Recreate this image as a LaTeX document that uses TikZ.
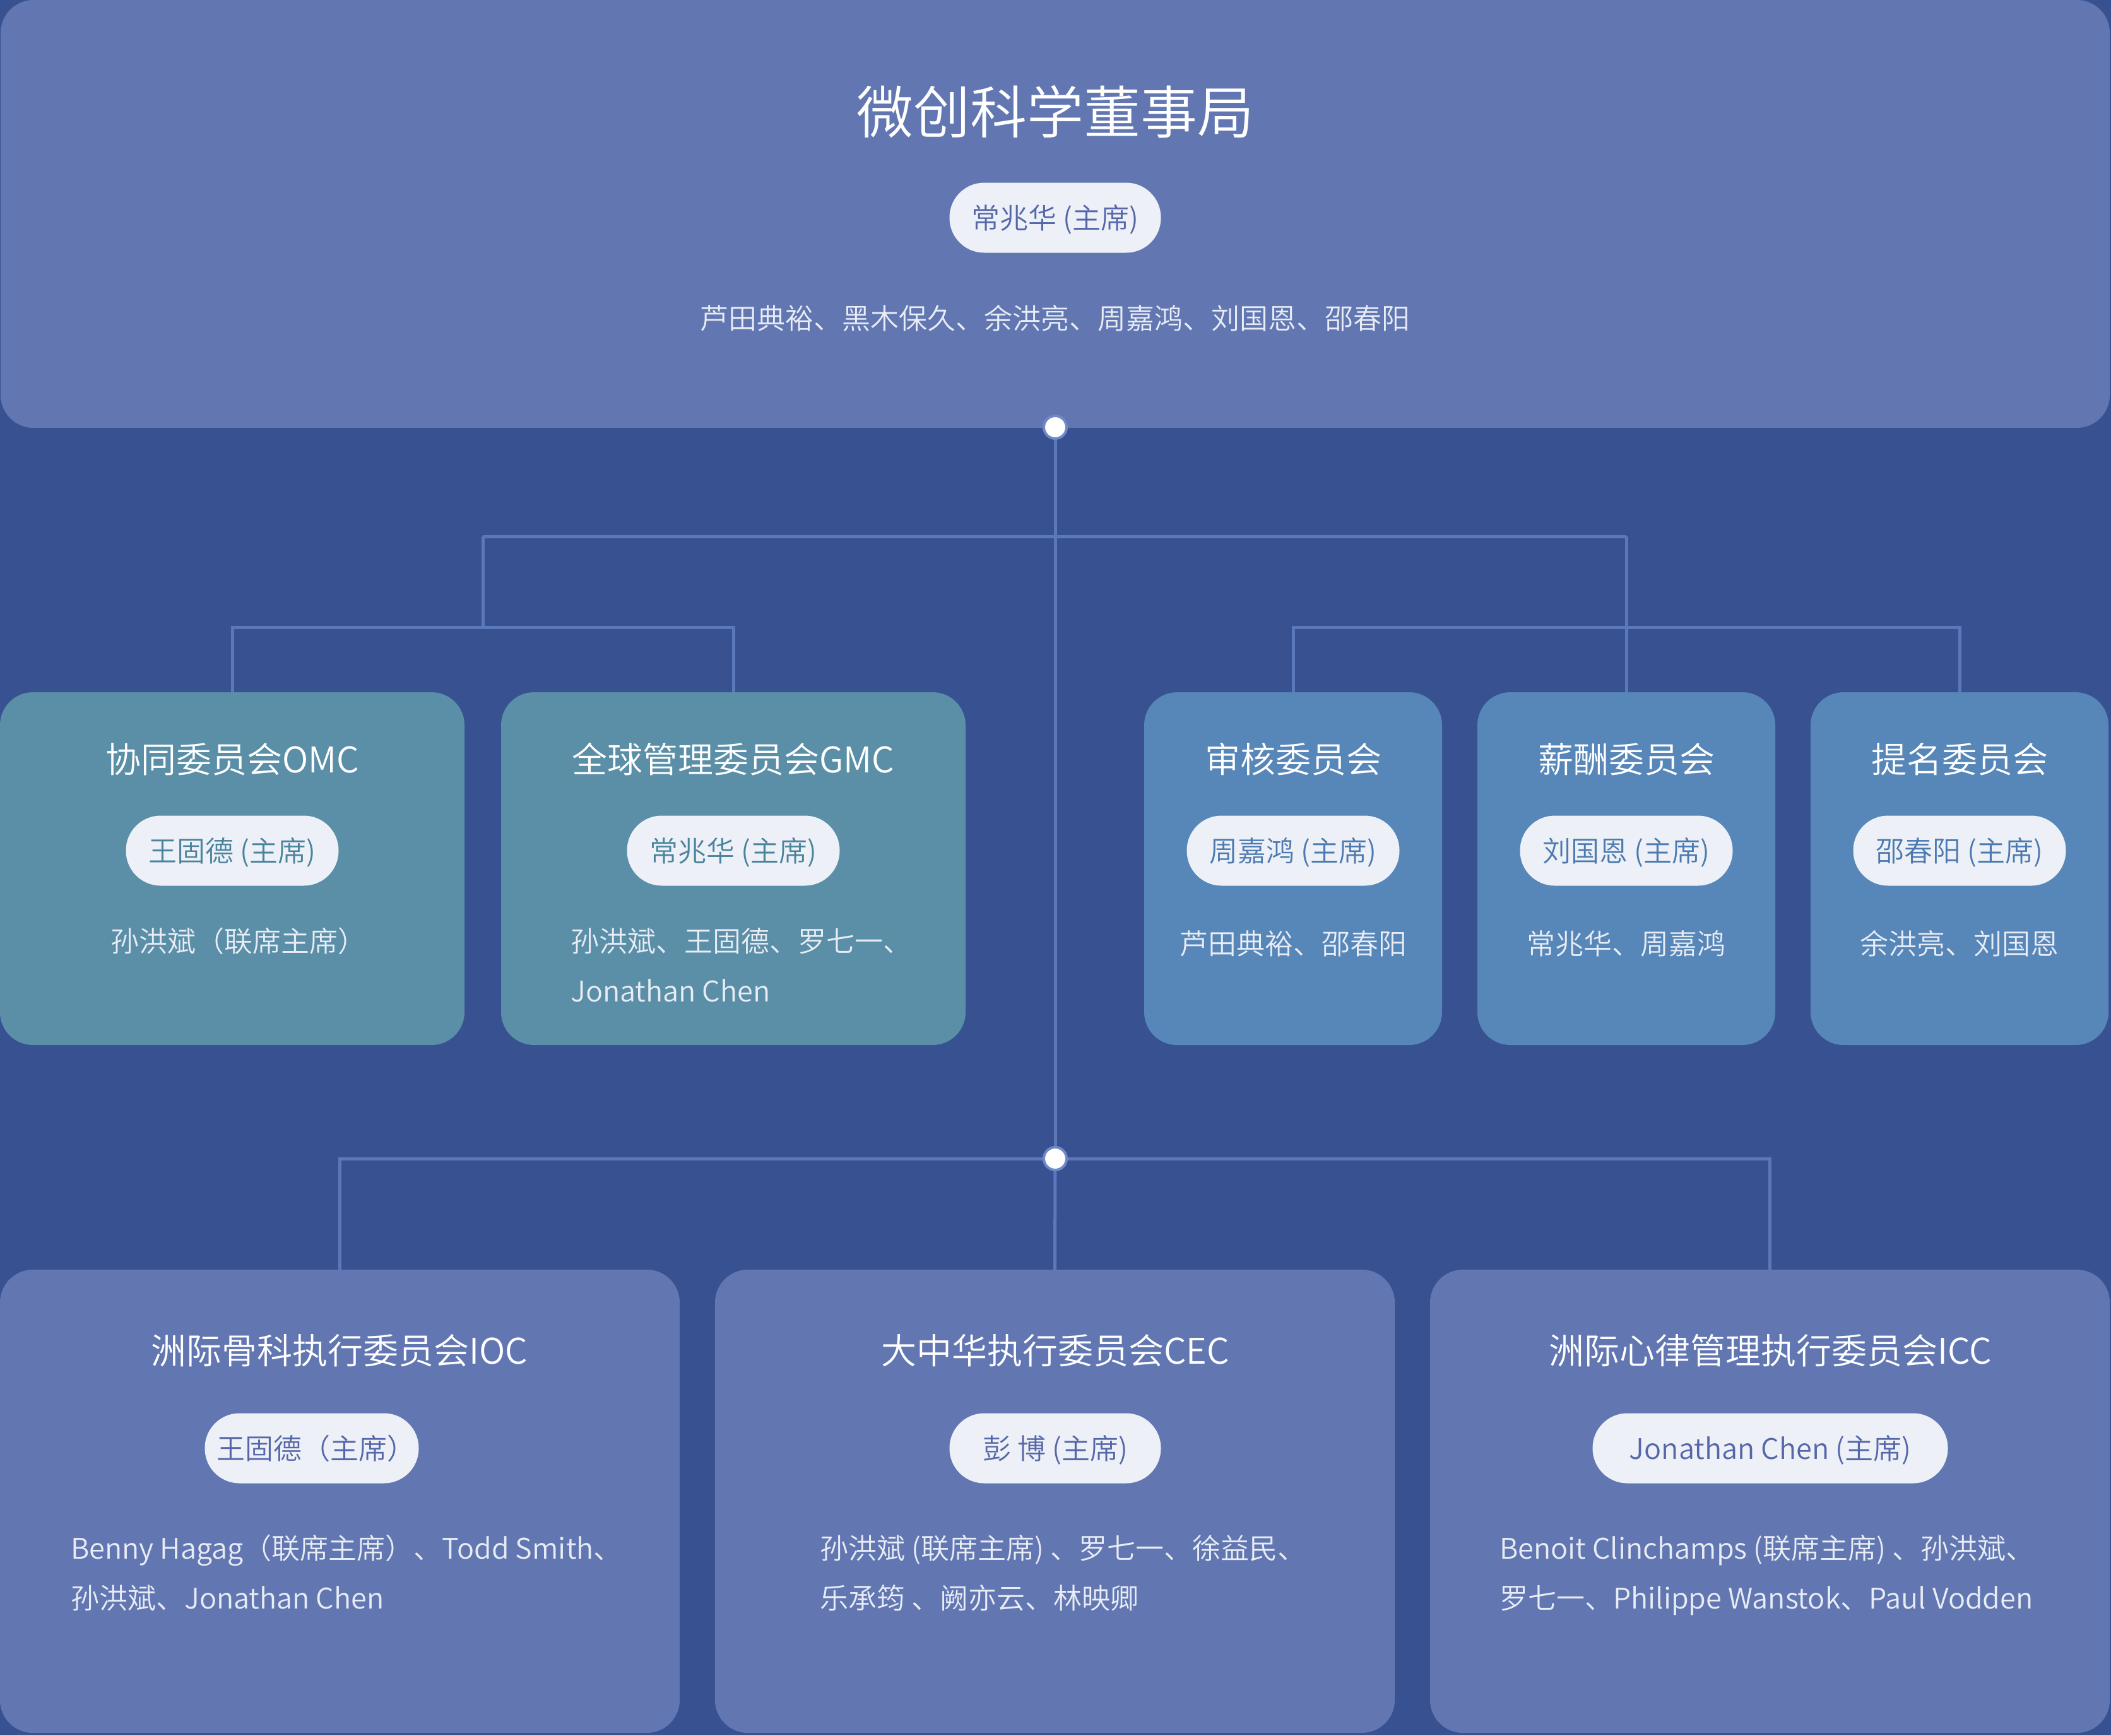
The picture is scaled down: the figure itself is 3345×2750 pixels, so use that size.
\documentclass[tikz,border=0pt]{standalone}
\usepackage{fontspec}
\setmainfont{Noto Sans CJK SC}[UprightFont={* DemiLight}]
\definecolor{bg}{HTML}{385291}
\definecolor{boxc}{HTML}{6277B2}
\definecolor{tealc}{HTML}{5A8FA7}
\definecolor{bluec}{HTML}{5786B8}
\definecolor{pillc}{HTML}{EDF0F7}
\definecolor{linec}{HTML}{5B78BA}
\definecolor{memc}{HTML}{E8ECF5}
\definecolor{ptop}{HTML}{5567A8}
\definecolor{pteal}{HTML}{4A849C}
\definecolor{pblue}{HTML}{4C7AB0}
\definecolor{ringc}{HTML}{7088C6}
\begin{document}
\begin{tikzpicture}[x=1pt,y=-1pt,
  box/.style={rectangle, rounded corners=52pt, inner sep=0pt, draw=none},
  pill/.style={rectangle, rounded corners=55pt, fill=pillc, minimum height=111pt,
    inner xsep=0pt, inner ysep=0pt, text height=36pt, text depth=1.8pt,
    font=\fontsize{45pt}{54pt}\selectfont},
  bigttl/.style={anchor=base, inner sep=0pt, text=white, font=\fontsize{90pt}{108pt}\selectfont},
  ttl/.style={anchor=base, inner sep=0pt, text=white, font=\fontsize{56pt}{67pt}\selectfont},
  mem/.style={anchor=base, inner sep=0pt, text=memc, font=\fontsize{45pt}{54pt}\selectfont},
  memtwo/.style={anchor=north west, inner sep=0pt, text=memc, align=left, font=\fontsize{45pt}{79pt}\selectfont},
  conn/.style={draw=linec, line width=5pt},
  dot/.style={circle, fill=white, draw=ringc, line width=4pt, minimum size=36pt, inner sep=0pt}
]
\useasboundingbox (0,0) rectangle (3345,2750);
\fill[bg] (0,0) rectangle (3345,2750);

% junction coordinates
\coordinate (jl) at (765,850);
\coordinate (jr) at (2577,850);
\coordinate (jl2) at (765,994);
\coordinate (jr2) at (2577,994);

% boxes
\node[box, fill=boxc, minimum width=3342pt, minimum height=678pt] (board) at (1672,339) {};
\node[box, fill=tealc, minimum width=736pt, minimum height=559pt] (omc) at (368,1376.5) {};
\node[box, fill=tealc, minimum width=736pt, minimum height=559pt] (gmc) at (1162,1376.5) {};
\node[box, fill=bluec, minimum width=472pt, minimum height=559pt] (audit) at (2049,1376.5) {};
\node[box, fill=bluec, minimum width=472pt, minimum height=559pt] (comp) at (2577,1376.5) {};
\node[box, fill=bluec, minimum width=472pt, minimum height=559pt] (nomi) at (3105,1376.5) {};
\node[box, fill=boxc, minimum width=1077pt, minimum height=734pt] (ioc) at (538.5,2379) {};
\node[box, fill=boxc, minimum width=1077pt, minimum height=734pt] (cec) at (1671.5,2379) {};
\node[box, fill=boxc, minimum width=1077pt, minimum height=734pt] (icc) at (2804.5,2379) {};

% dots (positions)
\coordinate (d1c) at (1672,677);
\coordinate (d2c) at (1672,1836);

% connectors
\draw[conn] (d1c) -- (d2c);
\draw[conn] (jl) -- (jr);
\draw[conn] (jl) -- (jl2);
\draw[conn] (omc.north) |- (jl2) -| (gmc.north);
\draw[conn] (jr) -- (comp.north);
\draw[conn] (audit.north) |- (jr2) -| (nomi.north);
\draw[conn] (ioc.north) |- (d2c) -| (icc.north);
\draw[conn] (d2c) -- (cec.north);

\node[dot] (d1) at (d1c) {};
\node[dot] (d2) at (d2c) {};

% board texts
\node[bigttl] (boardt) at (1672,211) {微创科学董事局};
\node[pill, minimum width=335pt, text=ptop] (boardp) at (1672,345) {常兆华 (主席)};
\node[mem] (boardm) at (1672,521) {芦田典裕、黑木保久、余洪亮、周嘉鸿、刘国恩、邵春阳};

% middle row texts
\node[ttl] (omct) at (368,1224) {协同委员会OMC};
\node[pill, minimum width=337pt, text=pteal] (omcp) at (368,1348) {王固德 (主席)};
\node[mem] (omcm) at (378,1508) {孙洪斌（联席主席）};

\node[ttl] (gmct) at (1162,1224) {全球管理委员会GMC};
\node[pill, minimum width=337pt, text=pteal] (gmcp) at (1162,1348) {常兆华 (主席)};
\node[memtwo] (gmcm) at (904,1467.5) {\rule{0pt}{40.5pt}孙洪斌、王固德、罗七一、\\Jonathan Chen};

\node[ttl] (auditt) at (2049,1224) {审核委员会};
\node[pill, minimum width=337pt, text=pblue] (auditp) at (2049,1348) {周嘉鸿 (主席)};
\node[mem] (auditm) at (2049,1512) {芦田典裕、邵春阳};

\node[ttl] (compt) at (2577,1224) {薪酬委员会};
\node[pill, minimum width=337pt, text=pblue] (compp) at (2577,1348) {刘国恩 (主席)};
\node[mem] (compm) at (2577,1512) {常兆华、周嘉鸿};

\node[ttl] (nomit) at (3105,1224) {提名委员会};
\node[pill, minimum width=337pt, text=pblue] (nomip) at (3105,1348) {邵春阳 (主席)};
\node[mem] (nomim) at (3105,1512) {余洪亮、刘国恩};

% bottom row texts
\node[ttl] (ioct) at (538,2161) {洲际骨科执行委员会IOC};
\node[pill, minimum width=339pt, text=ptop] (iocp) at (494,2295) {\hspace*{14pt}王固德（主席）};
\node[memtwo] (iocm) at (112,2429.5) {\rule{0pt}{40.5pt}Benny Hagag（联席主席）、Todd Smith、\\孙洪斌、Jonathan Chen};

\node[ttl] (cect) at (1672,2161) {大中华执行委员会CEC};
\node[pill, minimum width=335pt, text=ptop] (cecp) at (1672,2295) {彭 博 (主席)};
\node[memtwo] (cecm) at (1299,2429.5) {\rule{0pt}{40.5pt}孙洪斌 (联席主席) 、罗七一、徐益民、\\乐承筠 、阙亦云、林映卿};

\node[ttl] (icct) at (2805,2161) {洲际心律管理执行委员会ICC};
\node[pill, minimum width=563pt, text=ptop] (iccp) at (2805,2295) {Jonathan Chen (主席)};
\node[memtwo] (iccm) at (2376,2429.5) {\rule{0pt}{40.5pt}Benoit Clinchamps (联席主席) 、孙洪斌、\\罗七一、Philippe Wanstok、Paul Vodden};
\end{tikzpicture}
\end{document}
